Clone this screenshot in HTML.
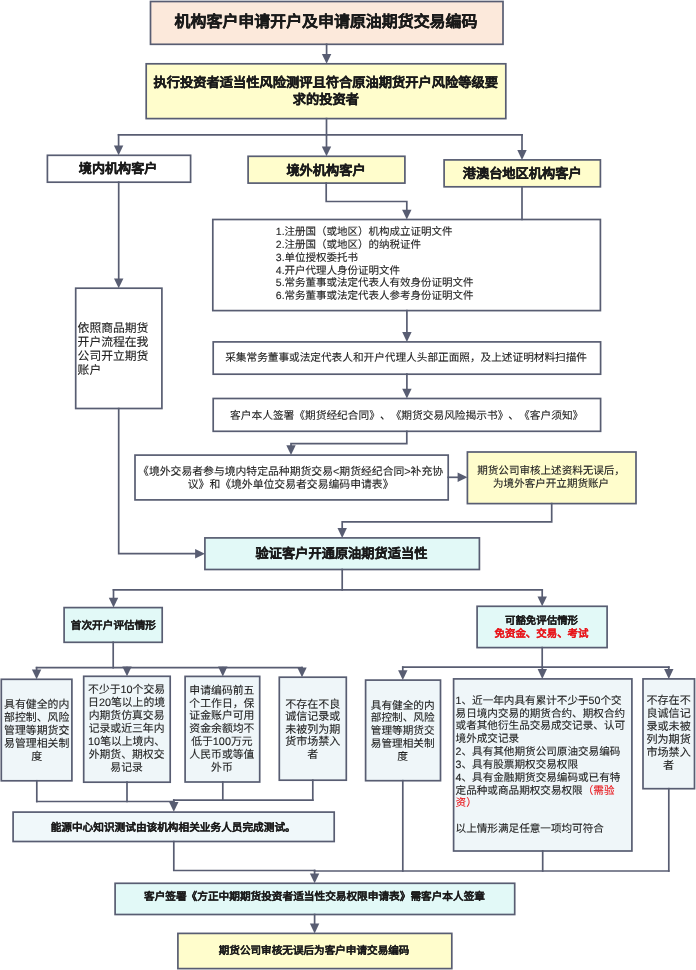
<!DOCTYPE html>
<html lang="zh-CN"><head><meta charset="utf-8"><style>
html,body{margin:0;padding:0;background:#fff;}
body{width:696px;height:970px;position:relative;overflow:hidden;font-family:"Liberation Sans",sans-serif;color:#222;text-rendering:geometricPrecision;text-spacing-trim:space-all;}
svg{position:absolute;left:0;top:0;}
svg rect,svg polyline{stroke:#585d72;stroke-width:1.7;fill-opacity:1;}
svg polyline{fill:none;stroke-linecap:square;}
svg polygon{fill:#585d72;stroke:none;}
.t{position:absolute;white-space:nowrap;-webkit-text-stroke-width:0.1px;}
.b{font-weight:bold;-webkit-text-stroke-width:0.3px;color:#1a1a1a;}
#tx{position:absolute;left:0;top:0;width:696px;height:970px;will-change:transform;}
</style></head><body>
<svg width="696" height="970" viewBox="0 0 696 970">
<rect x="150.50" y="1.50" width="352.50" height="42.80" fill="#fce9db"/>
<rect x="146.20" y="63.80" width="359.60" height="54.80" fill="#fffdcc"/>
<rect x="47.40" y="155.30" width="143.20" height="26.90" fill="#ffffff"/>
<rect x="248.10" y="156.30" width="156.80" height="26.80" fill="#fffdcc"/>
<rect x="444.10" y="159.90" width="156.30" height="26.90" fill="#fffdcc"/>
<rect x="212.80" y="219.50" width="387.60" height="91.10" fill="#ffffff"/>
<rect x="75.70" y="288.20" width="86.20" height="120.30" fill="#ffffff"/>
<rect x="213.20" y="341.90" width="387.40" height="32.30" fill="#ffffff"/>
<rect x="213.20" y="398.50" width="387.40" height="32.80" fill="#ffffff"/>
<rect x="135.00" y="455.10" width="313.20" height="44.80" fill="#ffffff"/>
<rect x="467.40" y="452.00" width="168.60" height="51.60" fill="#fffdcc"/>
<rect x="204.90" y="537.90" width="274.50" height="31.60" fill="#e2f9f7"/>
<rect x="64.10" y="607.60" width="98.10" height="34.70" fill="#e2f9f7"/>
<rect x="477.10" y="606.30" width="130.00" height="41.30" fill="#e2f9f7"/>
<rect x="1.30" y="679.30" width="70.60" height="101.50" fill="#eff6f9"/>
<rect x="83.70" y="676.30" width="86.50" height="105.90" fill="#eff6f9"/>
<rect x="185.10" y="676.40" width="74.60" height="105.60" fill="#eff6f9"/>
<rect x="279.30" y="677.20" width="67.00" height="103.00" fill="#eff6f9"/>
<rect x="365.60" y="680.10" width="74.90" height="100.60" fill="#eff6f9"/>
<rect x="453.60" y="678.90" width="178.30" height="172.10" fill="#eff6f9"/>
<rect x="643.00" y="678.90" width="51.50" height="109.80" fill="#eff6f9"/>
<rect x="13.10" y="812.10" width="321.10" height="29.40" fill="#f0f8fa"/>
<rect x="115.10" y="883.30" width="399.60" height="31.20" fill="#e2f9f7"/>
<rect x="177.90" y="933.40" width="273.90" height="35.20" fill="#fffdcc"/>
<polyline points="326.60,44.30 326.60,56.94"/>
<polygon points="326.60,63.80 321.90,54.00 331.30,54.00"/>
<polyline points="326.50,118.60 326.50,134.80"/>
<polyline points="118.60,134.80 522.00,134.80"/>
<polyline points="118.60,134.80 118.60,148.44"/>
<polygon points="118.60,155.30 113.90,145.50 123.30,145.50"/>
<polyline points="326.50,134.80 326.50,149.44"/>
<polygon points="326.50,156.30 321.80,146.50 331.20,146.50"/>
<polyline points="522.00,134.80 522.00,153.04"/>
<polygon points="522.00,159.90 517.30,150.10 526.70,150.10"/>
<polyline points="326.20,183.10 326.20,201.50 406.80,201.50 406.80,212.64"/>
<polygon points="406.80,219.50 402.10,209.70 411.50,209.70"/>
<polyline points="522.00,186.80 522.00,219.50"/>
<polyline points="118.70,182.20 118.70,281.34"/>
<polygon points="118.70,288.20 114.00,278.40 123.40,278.40"/>
<polyline points="406.90,310.60 406.90,335.04"/>
<polygon points="406.90,341.90 402.20,332.10 411.60,332.10"/>
<polyline points="406.90,374.20 406.90,391.64"/>
<polygon points="406.90,398.50 402.20,388.70 411.60,388.70"/>
<polyline points="406.80,431.30 406.80,443.70 291.00,443.70 291.00,448.24"/>
<polygon points="291.00,455.10 286.30,445.30 295.70,445.30"/>
<polyline points="448.20,477.30 460.54,477.30"/>
<polygon points="467.40,477.30 457.60,482.00 457.60,472.60"/>
<polyline points="551.70,503.60 551.70,521.80 342.20,521.80 342.20,531.04"/>
<polygon points="342.20,537.90 337.50,528.10 346.90,528.10"/>
<polyline points="118.70,408.50 118.70,553.70 198.04,553.70"/>
<polygon points="204.90,553.70 195.10,558.40 195.10,549.00"/>
<polyline points="342.20,569.50 342.20,589.90"/>
<polyline points="113.50,589.90 542.20,589.90"/>
<polyline points="113.50,589.90 113.50,600.74"/>
<polygon points="113.50,607.60 108.80,597.80 118.20,597.80"/>
<polyline points="542.20,589.90 542.20,599.44"/>
<polygon points="542.20,606.30 537.50,596.50 546.90,596.50"/>
<polyline points="113.20,642.30 113.20,667.70"/>
<polyline points="36.60,667.70 302.00,667.70"/>
<polyline points="36.60,667.70 36.60,672.44"/>
<polygon points="36.60,679.30 31.90,669.50 41.30,669.50"/>
<polyline points="127.00,667.70 127.00,669.44"/>
<polygon points="127.00,676.30 122.30,666.50 131.70,666.50"/>
<polyline points="222.80,667.70 222.80,669.54"/>
<polygon points="222.80,676.40 218.10,666.60 227.50,666.60"/>
<polyline points="302.00,667.70 302.00,670.34"/>
<polygon points="302.00,677.20 297.30,667.40 306.70,667.40"/>
<polyline points="542.20,647.60 542.20,667.20"/>
<polyline points="402.80,667.20 668.80,667.20"/>
<polyline points="402.80,667.20 402.80,673.24"/>
<polygon points="402.80,680.10 398.10,670.30 407.50,670.30"/>
<polyline points="542.30,667.20 542.30,672.04"/>
<polygon points="542.30,678.90 537.60,669.10 547.00,669.10"/>
<polyline points="668.80,667.20 668.80,672.04"/>
<polygon points="668.80,678.90 664.10,669.10 673.50,669.10"/>
<polyline points="36.80,780.80 36.80,801.50"/>
<polyline points="127.00,782.20 127.00,801.50"/>
<polyline points="222.80,782.00 222.80,800.10"/>
<polyline points="312.80,780.20 312.80,800.10"/>
<polyline points="36.80,801.50 173.80,801.50"/>
<polyline points="173.80,800.10 312.80,800.10"/>
<polyline points="173.80,800.10 173.80,804.94"/>
<polygon points="173.80,811.80 169.10,802.00 178.50,802.00"/>
<polyline points="173.80,841.50 173.80,870.50 314.60,870.50"/>
<polyline points="314.60,871.00 668.80,871.00"/>
<polyline points="314.60,870.50 314.60,876.44"/>
<polygon points="314.60,883.30 309.90,873.50 319.30,873.50"/>
<polyline points="402.80,780.70 402.80,871.00"/>
<polyline points="542.70,851.00 542.70,871.00"/>
<polyline points="668.80,788.70 668.80,871.00"/>
<polyline points="314.60,914.50 314.60,926.54"/>
<polygon points="314.60,933.40 309.90,923.60 319.30,923.60"/>
</svg>
<div id="tx">
<div class="t b" style="top:12.90px;font-size:15.947px;line-height:20px;left:326.00px;text-align:center;transform:translateX(-50%);">机构客户申请开户及申请原油期货交易编码</div>
<div class="t b" style="top:75.45px;font-size:13.266px;line-height:16.5px;left:325.80px;text-align:center;transform:translateX(-50%);">执行投资者适当性风险测评且符合原油期货开户风险等级要<br>求的投资者</div>
<div class="t b" style="top:159.70px;font-size:13.086px;line-height:17px;left:118.10px;text-align:center;transform:translateX(-50%);">境内机构客户</div>
<div class="t b" style="top:161.60px;font-size:13.214px;line-height:17px;left:326.00px;text-align:center;transform:translateX(-50%);">境外机构客户</div>
<div class="t b" style="top:165.20px;font-size:13.232px;line-height:17px;left:522.20px;text-align:center;transform:translateX(-50%);">港澳台地区机构客户</div>
<div class="t" style="top:226.20px;font-size:10.500px;line-height:12.8px;left:275.80px;text-align:left;">1.注册国（或地区）机构成立证明文件<br>2.注册国（或地区）的纳税证件<br>3.单位授权委托书<br>4.开户代理人身份证明文件<br>5.常务董事或法定代表人有效身份证明文件<br>6.常务董事或法定代表人参考身份证明文件</div>
<div class="t" style="top:321.91px;font-size:11.800px;line-height:13.97px;left:77.60px;text-align:left;">依照商品期货<br>开户流程在我<br>公司开立期货<br>账户</div>
<div class="t" style="top:352.10px;font-size:10.656px;line-height:13px;left:406.10px;text-align:center;transform:translateX(-50%);">采集常务董事或法定代表人和开户代理人头部正面照，及上述证明材料扫描件</div>
<div class="t" style="top:410.10px;font-size:10.712px;line-height:13px;left:406.70px;text-align:center;transform:translateX(-50%);">客户本人签署《期货经纪合同》、《期货交易风险揭示书》、《客户须知》</div>
<div class="t" style="top:466.05px;font-size:10.831px;line-height:13.3px;left:290.60px;text-align:center;transform:translateX(-50%);">《境外交易者参与境内特定品种期货交易&lt;期货经纪合同&gt;补充协<br>议》和《境外单位交易者交易编码申请表》</div>
<div class="t" style="top:465.25px;font-size:10.559px;line-height:12.7px;left:551.10px;text-align:center;transform:translateX(-50%);">期货公司审核上述资料无误后，<br>为境外客户开立期货账户</div>
<div class="t b" style="top:545.10px;font-size:13.224px;line-height:17px;left:341.50px;text-align:center;transform:translateX(-50%);">验证客户开通原油期货适当性</div>
<div class="t b" style="top:619.70px;font-size:10.662px;line-height:13px;-webkit-text-stroke-width:0.12px;left:113.40px;text-align:center;transform:translateX(-50%);">首次开户评估情形</div>
<div class="t b" style="top:615.05px;font-size:10.457px;line-height:13.1px;-webkit-text-stroke-width:0.12px;left:541.50px;text-align:center;transform:translateX(-50%);">可豁免评估情形<br><span style="color:#e8161b">免资金、交易、考试</span></div>
<div class="t" style="top:699.45px;font-size:10.904px;line-height:12.9px;left:36.70px;text-align:center;transform:translateX(-50%);">具有健全的内<br>部控制、风险<br>管理等期货交<br>易管理相关制<br>度</div>
<div class="t" style="top:684.41px;font-size:10.849px;line-height:12.98px;left:126.60px;text-align:center;transform:translateX(-50%);">不少于10个交易<br>日20笔以上的境<br>内期货仿真交易<br>记录或近三年内<br>10笔以上境内、<br>外期货、期权交<br>易记录</div>
<div class="t" style="top:684.80px;font-size:10.852px;line-height:12.8px;left:221.90px;text-align:center;transform:translateX(-50%);">申请编码前五<br>个工作日，保<br>证金账户可用<br>资金余额均不<br>低于100万元<br>人民币或等值<br>外币</div>
<div class="t" style="top:698.50px;font-size:11.039px;line-height:12.6px;left:312.80px;text-align:center;transform:translateX(-50%);">不存在不良<br>诚信记录或<br>未被列为期<br>货市场禁入<br>者</div>
<div class="t" style="top:699.62px;font-size:10.650px;line-height:12.75px;left:402.70px;text-align:center;transform:translateX(-50%);">具有健全的内<br>部控制、风险<br>管理等期货交<br>易管理相关制<br>度</div>
<div class="t" style="top:694.79px;font-size:10.600px;line-height:12.83px;left:455.60px;text-align:left;">1、近一年内具有累计不少于50个交<br>易日境内交易的期货合约、期权合约<br>或者其他衍生品交易成交记录、认可<br>境外成交记录<br>2、具有其他期货公司原油交易编码<br>3、具有股票期权交易权限<br>4、具有金融期货交易编码或已有特<br>定品种或商品期权交易权限<span style="color:#e8161b">（需验<br>资）</span><br><br>以上情形满足任意一项均可符合</div>
<div class="t" style="top:695.21px;font-size:11.083px;line-height:12.98px;left:668.60px;text-align:center;transform:translateX(-50%);">不存在不<br>良诚信记<br>录或未被<br>列为期货<br>市场禁入<br>者</div>
<div class="t b" style="top:822.00px;font-size:10.676px;line-height:13px;-webkit-text-stroke-width:0.12px;left:173.20px;text-align:center;transform:translateX(-50%);">能源中心知识测试由该机构相关业务人员完成测试。</div>
<div class="t b" style="top:890.90px;font-size:10.676px;line-height:13px;-webkit-text-stroke-width:0.12px;left:314.50px;text-align:center;transform:translateX(-50%);">客户签署《方正中期期货投资者适当性交易权限申请表》需客户本人签章</div>
<div class="t b" style="top:945.00px;font-size:10.605px;line-height:13px;-webkit-text-stroke-width:0.12px;left:314.10px;text-align:center;transform:translateX(-50%);">期货公司审核无误后为客户申请交易编码</div>
</div>
</body></html>
